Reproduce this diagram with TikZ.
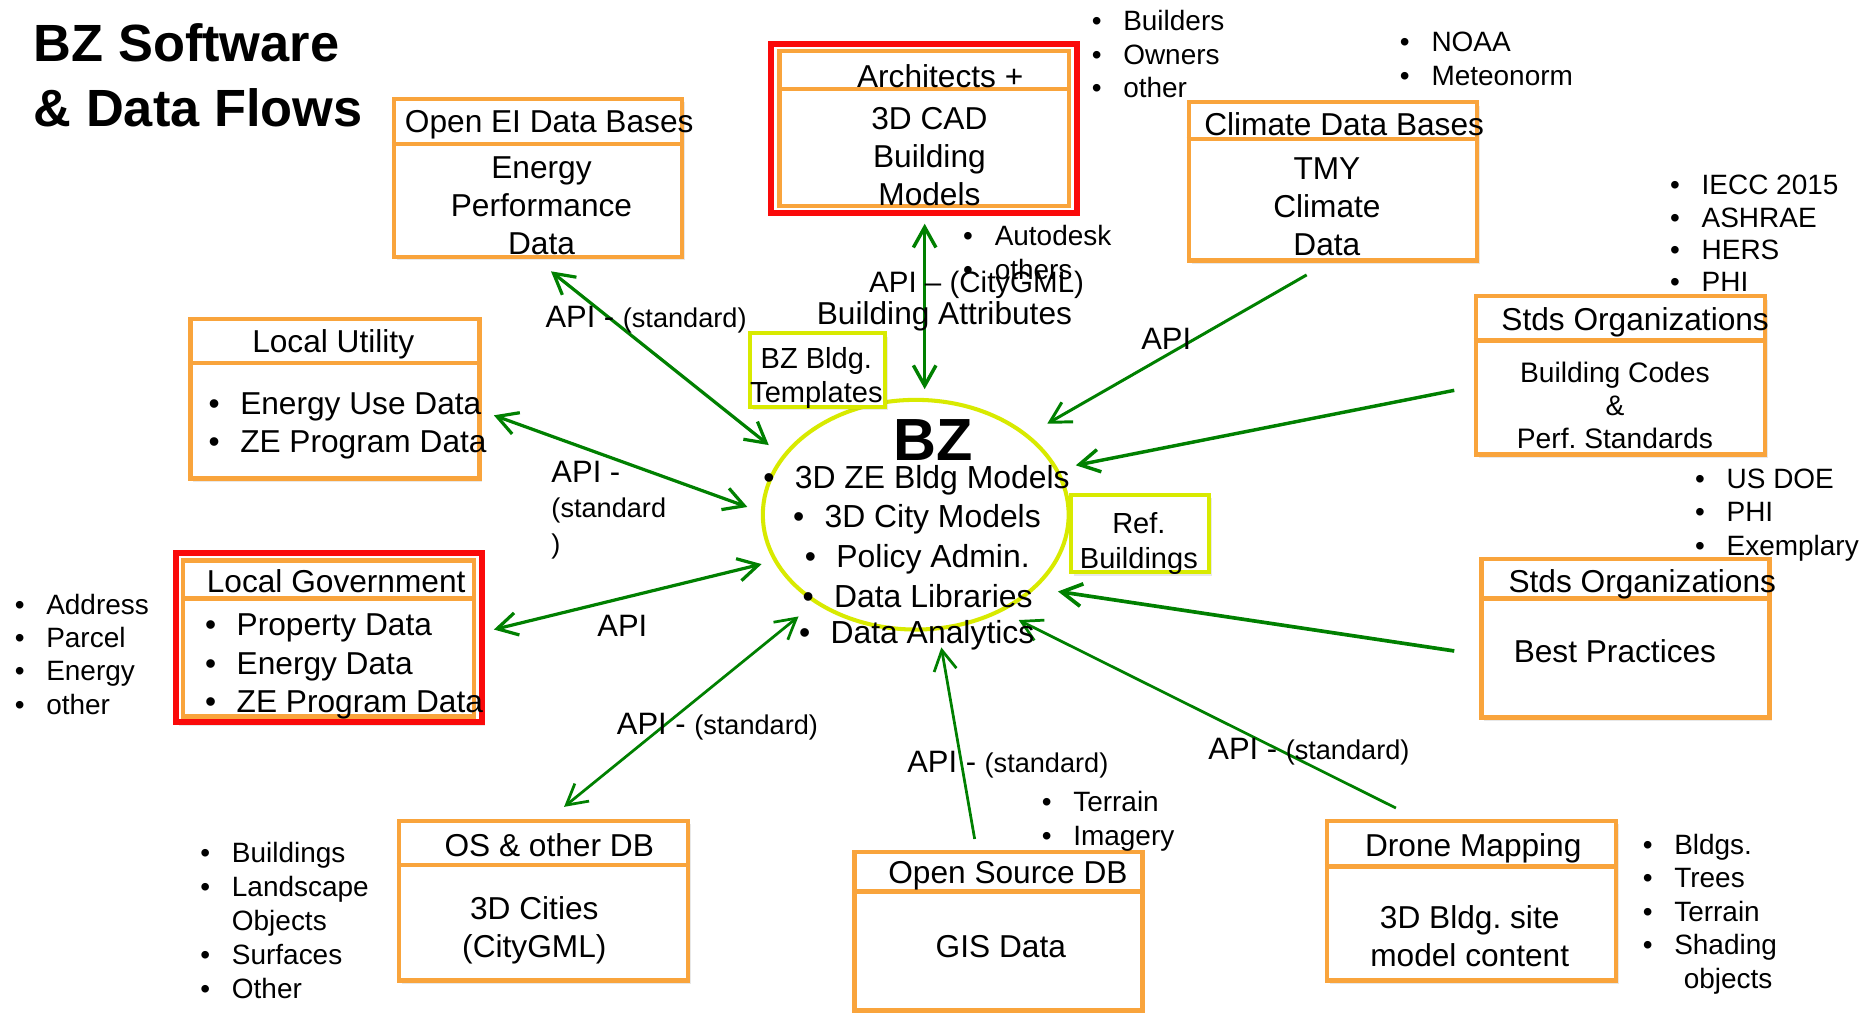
\documentclass[tikz,border=0pt]{standalone}
\usepackage{fontspec}
\setmainfont{Liberation Sans}
\usetikzlibrary{arrows.meta,shapes.geometric,fit,shadows}
\definecolor{orng}{RGB}{249,164,60}
\definecolor{yel}{RGB}{216,234,0}
\definecolor{redb}{RGB}{250,10,10}
\definecolor{grn}{RGB}{0,128,0}
\newcommand\fs[2]{\fontsize{#1}{#2}\selectfont}
\newcommand\blt[1]{\makebox[13.25pt][l]{\textbullet}#1}
\tikzset{
  shd/.style={drop shadow={opacity=0.18,shadow xshift=1.2pt,shadow yshift=-1.4pt}},
  obox/.style={draw=orng, line width=1.8pt, fill=white, inner sep=0pt, shd},
  oinner/.style={draw=orng, line width=1.8pt, inner sep=0pt},
  rbox/.style={draw=redb, line width=2.5pt, fill=white, inner sep=0pt, shd},
  ybox/.style={draw=yel, line width=1.7pt, fill=white, inner sep=0pt, shd},
  divider/.style={draw=orng, line width=1.8pt},
  tx/.style={yshift=-0.8pt},
  ttl/.style={font=\fs{13.3}{16}, inner sep=0pt, tx},
  body/.style={font=\fs{13.3}{16}, align=center, inner sep=0pt, tx},
  lst/.style={font=\fs{11.75}{14}, align=left, anchor=west, inner sep=0pt, tx},
  tip/.tip={Straight Barb[length=8.5pt,width=9.5pt]},
  flow/.style={draw=grn, line width=1.35pt, -tip},
  biflow/.style={draw=grn, line width=1.35pt, tip-tip},
  lbl/.style={font=\fs{13}{15}, inner sep=0pt, anchor=west, tx}
}
\newcommand\stdf{\fs{11.4}{15}}
\begin{document}
\begin{tikzpicture}[x=0.5pt,y=-0.5pt]
\useasboundingbox (0,0) rectangle (1568,851);
\fill[white] (0,0) rectangle (1568,851);

% ---- title
\node[font=\bfseries\fs{22}{27}, anchor=base west, inner sep=0pt] (t1) at (28,52) {BZ Software};
\node[font=\bfseries\fs{22}{27}, anchor=base west, inner sep=0pt] (t2) at (28,106) {\& Data Flows};

% ---- boxes
\node[obox, fit={(331,83) (573,216)}] (openei) {};
\node[rbox, fit={(648,37) (905,179)}] (archr) {};
\node[oinner, fit={(655,43) (898,173)}] (arch) {};
\node[obox, fit={(999,86) (1241,219)}] (clim) {};
\node[obox, fit={(160,268) (403,402)}] (util) {};
\node[rbox, fit={(148,465) (405,607)}] (govr) {};
\node[oinner, fit={(154,471) (398,602)}] (gov) {};
\node[obox, fit={(1240,249) (1483,382)}] (stdsa) {};
\node[obox, fit={(1245,470) (1487,603)}] (stdsb) {};
\node[obox, fit={(335,690) (578,824)}] (osdb) {};
\node[obox, fit={(718,716) (960,849)}] (opensrc) {};
\node[obox, fit={(1115,690) (1358,824)}] (drone) {};

\draw[divider] (openei.west |- 0,121) -- (openei.east |- 0,121);
\draw[divider] (arch.west |- 0,75) -- (arch.east |- 0,75);
\draw[divider] (clim.west |- 0,117) -- (clim.east |- 0,117);
\draw[divider] (util.west |- 0,305) -- (util.east |- 0,305);
\draw[divider] (gov.west |- 0,503) -- (gov.east |- 0,503);
\draw[divider] (stdsa.west |- 0,286) -- (stdsa.east |- 0,286);
\draw[divider] (stdsb.west |- 0,503) -- (stdsb.east |- 0,503);
\draw[divider] (osdb.west |- 0,727) -- (osdb.east |- 0,727);
\draw[divider] (opensrc.west |- 0,749) -- (opensrc.east |- 0,749);
\draw[divider] (drone.west |- 0,728) -- (drone.east |- 0,728);

% ---- central ellipse and yellow boxes
\node[draw=yel, line width=1.7pt, ellipse, minimum width=128.5pt, minimum height=96.5pt, inner sep=0pt] (bz) at (769.5,432.5) {};
\node[ybox, fit={(630,280) (744,342)}] (tmpl) {};
\node[ybox, fit={(900,416) (1016,481)}] (refb) {};

% ---- connectors
\coordinate (a1o) at (463,228);  \coordinate (a1b) at (646,374);
\coordinate (a2o) at (415,349);  \coordinate (a2b) at (628,426);
\coordinate (a3o) at (415,529);  \coordinate (a3b) at (640,474);
\coordinate (a4o) at (474,678);  \coordinate (a4b) at (671,518);
\coordinate (a5o) at (819,705);  \coordinate (a5b) at (791,544);
\coordinate (a6o) at (1173,679); \coordinate (a6b) at (856,521);
\coordinate (a7o) at (1222,547); \coordinate (a7b) at (889,497);
\coordinate (a8o) at (1222,328); \coordinate (a8b) at (904,391);
\coordinate (a9o) at (1098,231); \coordinate (a9b) at (880,356);
\coordinate (a10o) at (777,188); \coordinate (a10b) at (777,327);

\draw[biflow] (a1o) -- (a1b);
\draw[biflow] (a2o) -- (a2b);
\draw[biflow] (a3o) -- (a3b);
\draw[biflow, line width=1.15pt] (a4o) -- (a4b);
\draw[flow, line width=1.15pt] (a5o) -- (a5b);
\draw[flow, line width=1.15pt] (a6o) -- (a6b);
\draw[flow, line width=1.55pt] (a7o) -- (a7b);
\draw[flow, line width=1.45pt] (a8o) -- (a8b);
\draw[flow, line width=1.25pt] (a9o) -- (a9b);
\draw[biflow, line width=1.45pt] (a10o) -- (a10b);

% ---- box texts
\node[ttl] (openeit) at (461.5,103) {Open EI Data Bases};
\node[body] (openeib) at (455,171) {Energy\\Performance\\Data};
\node[ttl] (archt) at (790,62) {Architects +};
\node[body] (archb) at (781,130) {3D CAD\\Building\\Models};
\node[ttl] (climt) at (1129.5,103) {Climate Data Bases};
\node[body] (climb) at (1115,172) {TMY\\Climate\\Data};
\node[ttl] (utilt) at (280,288) {Local Utility};
\node[lst, font=\fs{13.3}{16}] (utilb) at (175,356) {\blt{Energy Use Data}\\\blt{ZE Program Data}};
\node[ttl] (govt) at (282.5,487) {Local Government};
\node[lst, font=\fs{13.3}{16.25}] (govb) at (172,558.5) {\blt{Property Data}\\\blt{Energy Data}\\\blt{ZE Program Data}};
\node[ttl] (stdsat) at (1374,269) {Stds Organizations};
\node[body, font=\fs{11.85}{14}] (stdsab) at (1357,339) {Building Codes\\\&\\Perf.\ Standards};
\node[ttl] (stdsbt) at (1380,489) {Stds Organizations};
\node[body] (stdsbb) at (1357,546) {Best Practices};
\node[ttl] (osdbt) at (461.5,709) {OS \& other DB};
\node[body] (osdbb) at (449,780) {3D Cities\\(CityGML)};
\node[ttl] (opensrct) at (847,734) {Open Source DB};
\node[body] (opensrcb) at (841,794) {GIS Data};
\node[ttl] (dronet) at (1238,711) {Drone Mapping};
\node[body] (droneb) at (1235,785) {3D Bldg.\ site\\model content};

% ---- centre
\node[font=\bfseries\fs{25}{30}, inner sep=0pt] (bzl) at (784,370) {BZ};
\node[lst, font=\fs{13.4}{16}] (c1) at (641,402) {\blt{3D ZE Bldg Models}};
\node[lst, font=\fs{13.4}{16}] (c2) at (666,435) {\blt{3D City Models}};
\node[lst, font=\fs{13.4}{16}] (c3) at (676,468) {\blt{Policy Admin.}};
\node[lst, font=\fs{13.4}{16}] (c4) at (674,499) {\blt{Data Libraries}};
\node[lst, font=\fs{13.4}{16}] (c5) at (671,532) {\blt{Data Analytics}};
\node[font=\fs{12.2}{14.5}, align=center, inner sep=0pt, tx] (tmplt) at (686,316) {BZ Bldg.\\Templates};
\node[font=\fs{12.2}{14.5}, align=center, inner sep=0pt, tx] (refbt) at (957,455) {Ref.\\Buildings};

% ---- side lists
\node[lst] (lbuild) at (917,44) {\blt{Builders}\\\blt{Owners}\\\blt{other}};
\node[lst] (lnoaa) at (1176,48) {\blt{NOAA}\\\blt{Meteonorm}};
\node[lst, font=\fs{11.75}{13.5}] (liecc) at (1403,194.5) {\blt{IECC 2015}\\\blt{ASHRAE}\\\blt{HERS}\\\blt{PHI}};
\node[lst] (ldoe) at (1424,431) {\blt{US DOE}\\\blt{PHI}\\\blt{Exemplary}};
\node[lst] (laddr) at (12,548) {\blt{Address}\\\blt{Parcel}\\\blt{Energy}\\\blt{other}};
\node[lst, font=\fs{11.75}{14.25}] (lbldg) at (168,772) {\blt{Buildings}\\\blt{Landscape}\\\makebox[13.25pt]{}Objects\\\blt{Surfaces}\\\blt{Other}};
\node[lst, font=\fs{11.75}{14.5}] (lterr) at (875,688.5) {\blt{Terrain}\\\blt{Imagery}};
\node[lst, font=\fs{11.75}{14.1}] (ldrone) at (1380,766.5) {\blt{Bldgs.}\\\blt{Trees}\\\blt{Terrain}\\\blt{Shading}\\\makebox[17.25pt]{}objects};
\node[lst, font=\fs{11.75}{14.5}] (lauto) at (809,210.5) {\blt{Autodesk}\\\blt{others}};

% ---- connector labels
\node[lbl] (l1) at (458,267) {API - {\stdf(standard)}};
\node[lbl, align=left] (l2) at (463,427) {API -\\{\stdf(standard}\\{\stdf)}};
\node[lbl, anchor=center] (l3) at (523,524) {API};
\node[lbl] (l4) at (518,609) {API - {\stdf(standard)}};
\node[lbl] (l5) at (762,641) {API - {\stdf(standard)}};
\node[lbl] (l6) at (1015,630) {API - {\stdf(standard)}};
\node[lbl, anchor=center] (l7) at (980,283) {API};
\node[lbl, font=\fs{12.4}{15}] (l8) at (730,238) {API \textendash{} (CityGML)};
\node[lbl, font=\fs{13.3}{16}] (l9) at (686,264) {Building Attributes};
\end{tikzpicture}
\end{document}
